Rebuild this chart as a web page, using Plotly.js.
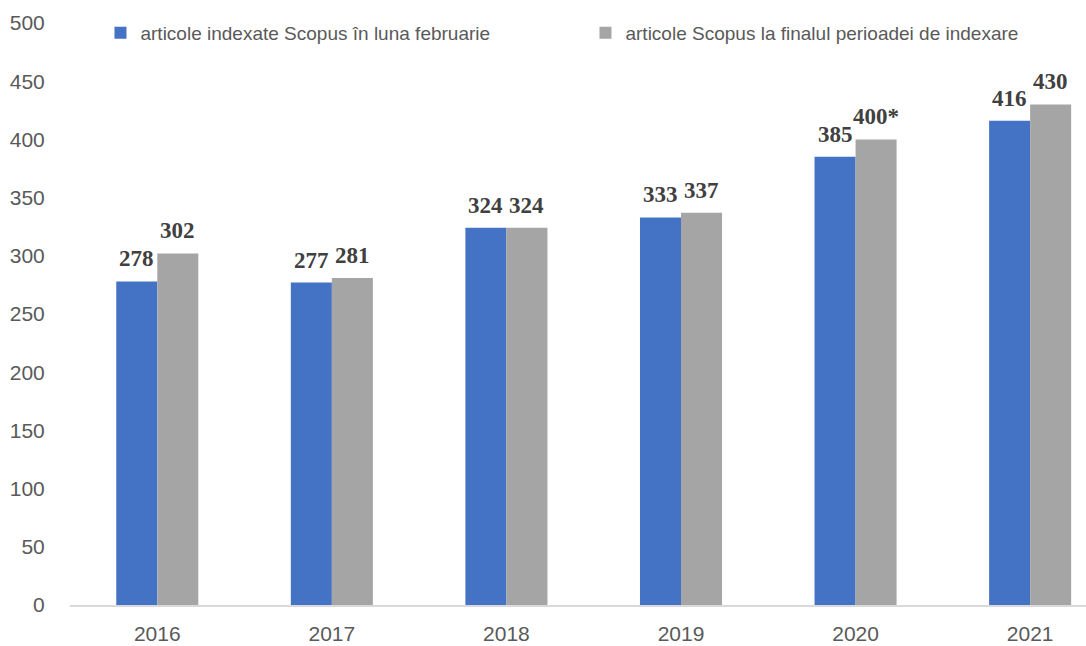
<!DOCTYPE html>
<html>
<head>
<meta charset="utf-8">
<script src="https://cdn.plot.ly/plotly-3.0.1.min.js"></script>
<style>html,body{margin:0;padding:0;background:#fff;}#chart{width:1086px;height:646px;}</style>
</head>
<body>
<div id="chart"></div>
<script>
var years = ['2016', '2017', '2018', '2019', '2020', '2021'];
var seriesFeb = [278, 277, 324, 333, 385, 416];
var seriesFinal = [302, 281, 324, 337, 400, 430];
var labelsFeb = ['278', '277', '324', '333', '385', '416'];
var labelsFinal = ['302', '281', '324', '337', '400*', '430'];
var nameFeb = 'articole indexate Scopus în luna februarie';
var nameFinal = 'articole Scopus la finalul perioadei de indexare';

var traces = [
  {type: 'bar', x: years, y: seriesFeb, name: nameFeb, marker: {color: '#4472c4'}, hoverinfo: 'skip'},
  {type: 'bar', x: years, y: seriesFinal, name: nameFinal, marker: {color: '#a5a5a5'}, hoverinfo: 'skip'}
];

var annFont = {family: '"Liberation Serif", "Times New Roman", serif', size: 23, color: '#404040'};
var annotations = [];
years.forEach(function (yr, i) {
  annotations.push({xref: 'x', yref: 'y', x: i, y: seriesFeb[i], text: '<b>' + labelsFeb[i] + '</b>', showarrow: false,
    xanchor: 'center', yanchor: 'bottom', xshift: -20.5, yshift: 8, font: annFont});
  annotations.push({xref: 'x', yref: 'y', x: i, y: seriesFinal[i], text: '<b>' + labelsFinal[i] + '</b>', showarrow: false,
    xanchor: 'center', yanchor: 'bottom', xshift: 20.5, yshift: 8, font: annFont});
});

var layout = {
  width: 1086, height: 646,
  margin: {l: 70, r: 0, t: 23, b: 41, pad: 0},
  paper_bgcolor: '#ffffff', plot_bgcolor: '#ffffff',
  font: {family: '"Liberation Sans", Arial, sans-serif', size: 21, color: '#595959'},
  barmode: 'group', bargap: 0.53, bargroupgap: 0,
  showlegend: true,
  legend: {orientation: 'h', x: 0.030, xanchor: 'left', y: 0.983, yanchor: 'middle',
    font: {size: 19, color: '#595959'}, entrywidth: 440, entrywidthmode: 'pixels', bgcolor: 'rgba(0,0,0,0)'},
  xaxis: {type: 'category', range: [-0.5, 5.32], showline: true, linecolor: '#d9d9d9', linewidth: 1.5,
    showgrid: false, zeroline: false, ticks: 'outside', ticklen: 9, tickcolor: 'rgba(0,0,0,0)',
    tickfont: {size: 21, color: '#595959'}},
  yaxis: {range: [0, 500], dtick: 50, tick0: 0, showgrid: false, zeroline: false, showline: false,
    ticks: 'outside', ticklen: 20, tickcolor: 'rgba(0,0,0,0)', tickfont: {size: 21, color: '#595959'}},
  annotations: annotations
};

Plotly.newPlot('chart', traces, layout, {displayModeBar: false, staticPlot: true});
</script>
</body>
</html>
